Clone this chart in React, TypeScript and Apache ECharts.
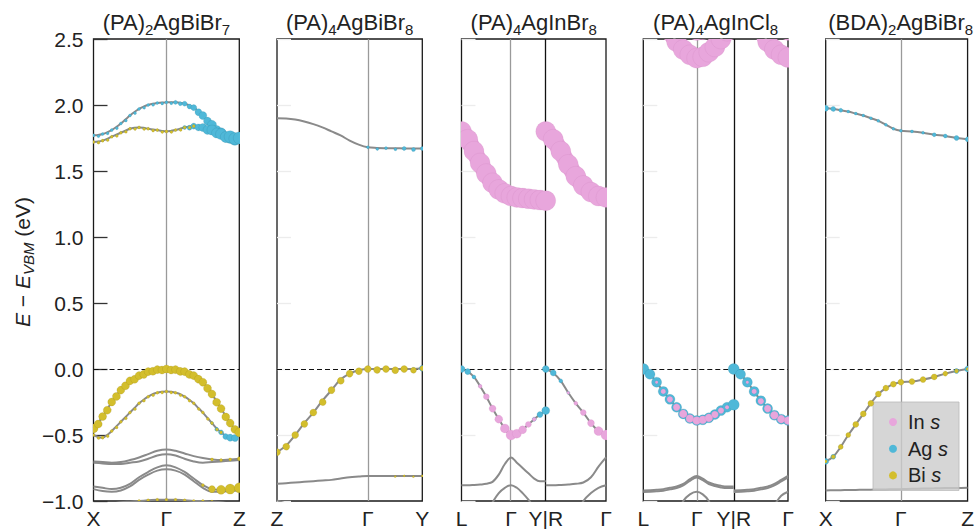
import React, { useEffect, useRef } from 'react';
import * as echarts from 'echarts';

const FONT = '"Liberation Sans", Arial, Helvetica, sans-serif';
const PINK = '#e8a6dc';
const BLUE = '#4fb8d8';
const YELLOW = '#d3be2c';
const GRAY = '#8a8a8a';

// ---------- titles ----------
const titles = [
  '(PA){sub|2}AgBiBr{sub|7}',
  '(PA){sub|4}AgBiBr{sub|8}',
  '(PA){sub|4}AgInBr{sub|8}',
  '(PA){sub|4}AgInCl{sub|8}',
  '(BDA){sub|2}AgBiBr{sub|8}',
];

// ---------- high-symmetry points ----------
const p1_kpos = [0, 0.5, 1];
const p1_klab = ['X', 'Γ', 'Z'];
const p2_kpos = [0, 0.625, 1];
const p2_klab = ['Z', 'Γ', 'Y'];
const p3_kpos = [0, 0.343, 0.583, 1];
const p3_klab = ['L', 'Γ', 'Y|R', 'Γ'];
const p4_kpos = [0, 0.369, 0.625, 1];
const p4_klab = ['L', 'Γ', 'Y|R', 'Γ'];
const p5_kpos = [0, 0.53, 1];
const p5_klab = ['X', 'Γ', 'Z'];

// ---------- k samples ----------
const kx16 = [0, 0.0625, 0.125, 0.1875, 0.25, 0.3125, 0.375, 0.4375, 0.5, 0.5625, 0.625, 0.6875, 0.75, 0.8125, 0.875, 0.9375, 1];
const kx32 = [0, 0.03125, 0.0625, 0.09375, 0.125, 0.15625, 0.1875, 0.21875, 0.25, 0.28125, 0.3125, 0.34375, 0.375, 0.40625, 0.4375, 0.46875, 0.5,
  0.53125, 0.5625, 0.59375, 0.625, 0.65625, 0.6875, 0.71875, 0.75, 0.78125, 0.8125, 0.84375, 0.875, 0.90625, 0.9375, 0.96875, 1];
const kx3a = [0, 0.043, 0.086, 0.129, 0.172, 0.215, 0.258, 0.3, 0.343, 0.383, 0.423, 0.463, 0.503, 0.543, 0.583];
const kx3b = [0.583, 0.635, 0.687, 0.739, 0.791, 0.843, 0.896, 0.948, 1.0];
const kx4a = [0, 0.046, 0.092, 0.138, 0.184, 0.23, 0.276, 0.322, 0.369, 0.411, 0.453, 0.495, 0.537, 0.579, 0.625];
const kx4b = [0.625, 0.672, 0.719, 0.766, 0.8125, 0.859, 0.906, 0.953, 1.0];
const kx5 = [0, 0.053, 0.106, 0.159, 0.212, 0.265, 0.318, 0.371, 0.424, 0.477, 0.53, 0.608, 0.686, 0.765, 0.843, 0.922, 1.0];

// ---------- panel 1: (PA)2AgBiBr7 ----------
const p1_cb1 = [1.77, 1.772, 1.78, 1.793, 1.81, 1.833, 1.86, 1.89, 1.92, 1.947, 1.97, 1.988, 2.0, 2.009, 2.015, 2.019, 2.02,
  2.021, 2.02, 2.017, 2.01, 1.998, 1.98, 1.953, 1.92, 1.885, 1.85, 1.818, 1.79, 1.765, 1.75, 1.745, 1.75];
const p1_cb1_ag = [3, 3, 3, 3, 3, 3, 3, 3, 3, 3, 3, 3, 3, 3, 3, 3, 3, 3, 4, 4, 5, 5, 6, 7, 8, 8, 9, 9, 10, 10, 11, 11, 11];
const p1_cb2 = [1.72, 1.723, 1.73, 1.743, 1.76, 1.775, 1.79, 1.805, 1.82, 1.827, 1.83, 1.827, 1.82, 1.814, 1.81, 1.804, 1.8,
  1.804, 1.81, 1.82, 1.83, 1.837, 1.84, 1.838, 1.83, 1.82, 1.81, 1.795, 1.78, 1.768, 1.76, 1.754, 1.75];
const p1_cb2_ag = [2, 2, 2, 2, 2, 2, 2, 2, 2, 2, 2, 2, 2, 2, 2, 2, 2, 2, 2, 2, 4, 5, 6, 7, 8, 9, 10, 10, 11, 11, 12, 12, 12];
const p1_cb2_bi = [3, 3, 3, 3, 3, 3, 3, 3, 3, 3, 3, 3, 3, 3, 3, 3, 3, 3, 3, 3, 3, 3, 3, 0, 0, 0, 0, 0, 0, 0, 0, 0, 0];
const p1_vb1 = [-0.45, -0.41, -0.36, -0.305, -0.25, -0.2, -0.16, -0.12, -0.09, -0.07, -0.05, -0.033, -0.02, -0.01, -0.005, -0.001, 0,
  -0.001, -0.005, -0.01, -0.02, -0.033, -0.05, -0.07, -0.1, -0.14, -0.19, -0.245, -0.3, -0.355, -0.41, -0.45, -0.48];
const p1_vb1_bi = [9, 8, 8, 8, 8, 8, 8, 8, 8, 8, 8, 8, 8, 8, 8, 8, 8, 8, 8, 8, 8, 8, 8, 8, 8, 8, 8, 8, 8, 8, 8, 8, 9];
const p1_vb2 = [-0.5, -0.515, -0.52, -0.5, -0.47, -0.435, -0.4, -0.365, -0.33, -0.295, -0.26, -0.233, -0.21, -0.19, -0.18, -0.172, -0.17,
  -0.172, -0.18, -0.19, -0.21, -0.233, -0.26, -0.295, -0.33, -0.37, -0.41, -0.45, -0.48, -0.505, -0.52, -0.515, -0.49];
const p1_vb2_bi = [3, 3, 3, 3, 3, 3, 3, 3, 3, 3, 3, 3, 3, 3, 3, 3, 3, 3, 3, 3, 3, 3, 3, 3, 3, 3, 3, 3, 3, 0, 0, 0, 0];
const p1_vb2_ag = [0, 0, 0, 0, 0, 0, 0, 0, 0, 0, 0, 0, 0, 0, 0, 0, 0, 0, 0, 0, 0, 0, 0, 0, 0, 0, 3, 4, 5, 6, 7, 7, 6];
const p1_b3 = [-0.7, -0.705, -0.71, -0.705, -0.69, -0.67, -0.645, -0.62, -0.61, -0.62, -0.64, -0.66, -0.675, -0.685, -0.69, -0.685, -0.68];
const p1_b3_bi = [0, 0, 0, 0, 0, 0, 0, 0, 0, 0, 0, 0, 0, 3, 3, 3, 4];
const p1_b4 = [-0.71, -0.715, -0.72, -0.72, -0.71, -0.7, -0.68, -0.655, -0.645, -0.655, -0.68, -0.7, -0.71, -0.705, -0.7, -0.695, -0.69];
const p1_b5 = [-0.89, -0.9, -0.91, -0.9, -0.87, -0.82, -0.78, -0.745, -0.73, -0.745, -0.78, -0.83, -0.88, -0.91, -0.915, -0.91, -0.9];
const p1_b5_bi = [0, 0, 0, 0, 0, 0, 0, 0, 0, 0, 0, 0, 3, 7, 9, 10, 10];
const p1_b6 = [-0.91, -0.925, -0.93, -0.92, -0.89, -0.84, -0.8, -0.77, -0.76, -0.77, -0.8, -0.85, -0.9, -0.93, -0.93, -0.925, -0.92];
const p1_b7 = [-1.04, -1.03, -1.02, -1.01, -1.005, -1.0, -0.995, -0.99, -0.99, -0.99, -0.995, -1.0, -1.0, -1.005, -1.01, -1.02, -1.03];
const p1_b7_bi = [0, 0, 0, 0, 0, 3, 3, 3, 3, 3, 3, 3, 3, 3, 0, 0, 0];

// ---------- panel 2: (PA)4AgBiBr8 ----------
const p2_cb = [1.9, 1.898, 1.89, 1.875, 1.855, 1.83, 1.8, 1.77, 1.73, 1.7, 1.68, 1.675, 1.673, 1.672, 1.671, 1.67, 1.67];
const p2_cb_ag = [0, 0, 0, 0, 0, 0, 0, 0, 0, 0, 3, 3, 3, 3, 4, 4, 4];
const p2_vb = [-0.63, -0.58, -0.5, -0.41, -0.33, -0.24, -0.16, -0.08, -0.035, -0.01, 0, 0, 0, 0, 0, 0, 0.005];
const p2_vb_bi = [7, 7, 7, 7, 7, 7, 7, 7, 7, 7, 7, 7, 7, 7, 7, 6, 5];
const p2_vb_ag = [0, 0, 0, 0, 0, 0, 0, 0, 0, 0, 0, 0, 0, 0, 3, 5, 6];
const p2_b2 = [-0.87, -0.865, -0.86, -0.855, -0.85, -0.845, -0.84, -0.83, -0.82, -0.815, -0.81, -0.81, -0.81, -0.81, -0.81, -0.81, -0.81];
const p2_b2_bi = [0, 0, 0, 0, 0, 0, 0, 0, 0, 0, 0, 0, 0, 2, 2, 2, 2];
const p2_b3 = [-0.995, -1.02, -1.05, -1.08, -1.1, -1.1, -1.1, -1.1, -1.1, -1.1, -1.1, -1.1, -1.1, -1.1, -1.1, -1.1, -1.1];

// ---------- panel 3: (PA)4AgInBr8 ----------
const p3a_cb = [1.8, 1.74, 1.65, 1.56, 1.48, 1.41, 1.36, 1.33, 1.31, 1.3, 1.295, 1.29, 1.285, 1.28, 1.275];
const p3a_cb_in = [20, 20, 20, 20, 20, 20, 20, 20, 20, 20, 20, 20, 20, 20, 20];
const p3b_cb = [1.8, 1.74, 1.65, 1.55, 1.46, 1.39, 1.34, 1.31, 1.3];
const p3b_cb_in = [20, 20, 20, 20, 20, 20, 20, 20, 20];
const p3a_vb = [0, -0.02, -0.06, -0.13, -0.21, -0.3, -0.38, -0.45, -0.5, -0.49, -0.46, -0.42, -0.38, -0.345, -0.315];
const p3a_vb_ag = [7, 6, 4, 3, 2, 0, 0, 0, 0, 0, 0, 2, 4, 6, 8];
const p3a_vb_in = [0, 0, 0, 4, 6, 7, 8, 9, 10, 9, 8, 6, 4, 0, 0];
const p3b_vb = [0, -0.03, -0.09, -0.18, -0.26, -0.33, -0.41, -0.47, -0.5];
const p3b_vb_ag = [7, 6, 4, 3, 2, 0, 0, 0, 0];
const p3b_vb_in = [0, 0, 0, 3, 4, 6, 7, 9, 10];
const p3a_b1 = [-0.88, -0.88, -0.878, -0.875, -0.87, -0.855, -0.8, -0.72, -0.67, -0.71, -0.75, -0.79, -0.83, -0.85, -0.85];
const p3b_b1 = [-0.88, -0.88, -0.878, -0.875, -0.87, -0.86, -0.82, -0.74, -0.67];
const p3a_b2 = [-1.1, -1.1, -1.1, -1.1, -1.1, -1.01, -0.94, -0.9, -0.88, -0.9, -0.94, -0.99, -1.05, -1.1, -1.1];
const p3b_b2 = [-1.1, -1.1, -1.1, -1.1, -1.1, -1.0, -0.94, -0.9, -0.88];

// ---------- panel 4: (PA)4AgInCl8 ----------
const p4a_cb1 = [2.95, 2.85, 2.75, 2.66, 2.56, 2.48, 2.42, 2.38, 2.355, 2.365, 2.4, 2.44, 2.5, 2.56, 2.62];
const p4a_cb2 = [3.1, 3.0, 2.9, 2.82, 2.74, 2.68, 2.62, 2.58, 2.565, 2.57, 2.6, 2.64, 2.7, 2.77, 2.85];
const p4a_cb_in = [20, 20, 20, 20, 20, 20, 20, 20, 20, 20, 20, 20, 20, 20, 20];
const p4b_cb1 = [2.95, 2.88, 2.8, 2.7, 2.58, 2.48, 2.42, 2.38, 2.36];
const p4b_cb2 = [3.2, 3.1, 3.0, 2.9, 2.8, 2.7, 2.64, 2.59, 2.565];
const p4b_cb_in = [20, 20, 20, 20, 20, 20, 20, 20, 20];
const p4a_vb = [0, -0.04, -0.1, -0.17, -0.23, -0.29, -0.34, -0.375, -0.39, -0.385, -0.37, -0.345, -0.315, -0.29, -0.27];
const p4a_vb_ag = [11, 10, 10, 10, 10, 10, 10, 10, 10, 10, 10, 10, 10, 10, 11];
const p4a_vb_in = [0, 0, 3, 5, 6, 7, 8, 8, 8, 8, 8, 7, 6, 4, 0];
const p4b_vb = [0, -0.04, -0.1, -0.17, -0.24, -0.3, -0.35, -0.38, -0.39];
const p4b_vb_ag = [11, 10, 10, 10, 10, 10, 10, 10, 10];
const p4b_vb_in = [0, 0, 3, 5, 6, 7, 8, 8, 8];
const p4a_b1 = [-0.92, -0.918, -0.915, -0.91, -0.9, -0.89, -0.87, -0.835, -0.81, -0.83, -0.86, -0.875, -0.885, -0.89, -0.89];
const p4a_b1b = [-0.932, -0.93, -0.927, -0.922, -0.912, -0.902, -0.882, -0.847, -0.822, -0.842, -0.872, -0.887, -0.897, -0.902, -0.902];
const p4b_b1 = [-0.92, -0.918, -0.915, -0.91, -0.9, -0.89, -0.87, -0.84, -0.81];
const p4b_b1b = [-0.932, -0.93, -0.927, -0.922, -0.912, -0.902, -0.882, -0.852, -0.822];
const p4a_b2 = [-1.1, -1.1, -1.1, -1.1, -1.1, -1.1, -1.0, -0.95, -0.93, -0.95, -1.0, -1.1, -1.1, -1.1, -1.1];
const p4b_b2 = [-1.1, -1.1, -1.1, -1.1, -1.1, -1.1, -1.03, -0.96, -0.93];

// ---------- panel 5: (BDA)2AgBiBr8 ----------
const p5_cb = [1.975, 1.97, 1.96, 1.95, 1.935, 1.92, 1.9, 1.88, 1.85, 1.82, 1.805, 1.8, 1.79, 1.775, 1.765, 1.75, 1.74];
const p5_cb_ag = [6, 5, 4, 3, 3, 3, 3, 3, 3, 3, 3, 3, 3, 4, 4, 5, 5];
const p5_vb = [-0.7, -0.665, -0.59, -0.5, -0.42, -0.34, -0.26, -0.19, -0.145, -0.115, -0.1, -0.095, -0.08, -0.06, -0.035, -0.015, 0];
const p5_vb_ag = [6, 5, 4, 3, 0, 0, 0, 0, 0, 0, 0, 0, 0, 0, 3, 5, 6];
const p5_vb_bi = [3, 4, 5, 5, 6, 6, 6, 6, 6, 6, 6, 6, 6, 6, 5, 4, 3];
const p5_b2 = [-0.92, -0.919, -0.918, -0.917, -0.916, -0.915, -0.914, -0.913, -0.912, -0.911, -0.91, -0.908, -0.906, -0.904, -0.902, -0.901, -0.9];

// ---------- layout (pixels) ----------
const GRID_TOP = 39;
const GRID_H = 463.7;
const gridLayout = [
  { left: 93.5, width: 145.8 },
  { left: 277, width: 145.3 },
  { left: 461.5, width: 144.5 },
  { left: 643.3, width: 144.7 },
  { left: 825.7, width: 150 },
];

type Band = { k: number[]; e: number[]; ag?: number[]; inn?: number[]; bi?: number[] };

const panels: { kpos: number[]; klab: string[]; bands: Band[] }[] = [
  {
    kpos: p1_kpos, klab: p1_klab,
    bands: [
      { k: kx32, e: p1_cb1, ag: p1_cb1_ag },
      { k: kx32, e: p1_cb2, ag: p1_cb2_ag, bi: p1_cb2_bi },
      { k: kx32, e: p1_vb1, bi: p1_vb1_bi },
      { k: kx32, e: p1_vb2, ag: p1_vb2_ag, bi: p1_vb2_bi },
      { k: kx16, e: p1_b3, bi: p1_b3_bi },
      { k: kx16, e: p1_b4 },
      { k: kx16, e: p1_b5, bi: p1_b5_bi },
      { k: kx16, e: p1_b6 },
      { k: kx16, e: p1_b7, bi: p1_b7_bi },
    ],
  },
  {
    kpos: p2_kpos, klab: p2_klab,
    bands: [
      { k: kx16, e: p2_cb, ag: p2_cb_ag },
      { k: kx16, e: p2_vb, ag: p2_vb_ag, bi: p2_vb_bi },
      { k: kx16, e: p2_b2, bi: p2_b2_bi },
      { k: kx16, e: p2_b3 },
    ],
  },
  {
    kpos: p3_kpos, klab: p3_klab,
    bands: [
      { k: kx3a, e: p3a_cb, inn: p3a_cb_in },
      { k: kx3b, e: p3b_cb, inn: p3b_cb_in },
      { k: kx3a, e: p3a_vb, ag: p3a_vb_ag, inn: p3a_vb_in },
      { k: kx3b, e: p3b_vb, ag: p3b_vb_ag, inn: p3b_vb_in },
      { k: kx3a, e: p3a_b1 },
      { k: kx3b, e: p3b_b1 },
      { k: kx3a, e: p3a_b2 },
      { k: kx3b, e: p3b_b2 },
    ],
  },
  {
    kpos: p4_kpos, klab: p4_klab,
    bands: [
      { k: kx4a, e: p4a_cb1, inn: p4a_cb_in },
      { k: kx4a, e: p4a_cb2, inn: p4a_cb_in },
      { k: kx4b, e: p4b_cb1, inn: p4b_cb_in },
      { k: kx4b, e: p4b_cb2, inn: p4b_cb_in },
      { k: kx4a, e: p4a_vb, ag: p4a_vb_ag, inn: p4a_vb_in },
      { k: kx4b, e: p4b_vb, ag: p4b_vb_ag, inn: p4b_vb_in },
      { k: kx4a, e: p4a_b1 },
      { k: kx4a, e: p4a_b1b },
      { k: kx4b, e: p4b_b1 },
      { k: kx4b, e: p4b_b1b },
      { k: kx4a, e: p4a_b2 },
      { k: kx4b, e: p4b_b2 },
    ],
  },
  {
    kpos: p5_kpos, klab: p5_klab,
    bands: [
      { k: kx5, e: p5_cb, ag: p5_cb_ag },
      { k: kx5, e: p5_vb, ag: p5_vb_ag, bi: p5_vb_bi },
      { k: kx5, e: p5_b2 },
    ],
  },
];

const ORB = [
  { key: 'ag', name: 'Ag s', color: BLUE, stroke: 'rgba(30,110,140,0.22)', z: 3 },
  { key: 'inn', name: 'In s', color: PINK, stroke: 'rgba(170,90,155,0.14)', z: 4 },
  { key: 'bi', name: 'Bi s', color: YELLOW, stroke: 'rgba(130,110,10,0.22)', z: 5 },
];

function makeRender(color: string, stroke: string) {
  return (_params: any, api: any) => {
    const p = api.coord([api.value(0), api.value(1)]);
    const r = api.value(2) / 2;
    return {
      type: 'circle',
      shape: { cx: p[0], cy: p[1], r },
      style: { fill: color, stroke, lineWidth: 0.7 },
    };
  };
}

function makeTubeRender(b: Band, width: number) {
  return (_params: any, api: any) => {
    const points = b.k.map((x, i) => api.coord([x, b.e[i]]));
    return {
      type: 'polyline',
      shape: { points, smooth: 0.3 },
      style: { stroke: PINK, fill: null, lineWidth: width, lineCap: 'round', lineJoin: 'round' },
    };
  };
}

function buildOption() {
  const series: any[] = [];
  panels.forEach((pan, gi) => {
    pan.bands.forEach((b, bi) => {
      const s: any = {
        type: 'line',
        xAxisIndex: gi,
        yAxisIndex: gi,
        data: b.k.map((x, i) => [x, b.e[i]]),
        smooth: 0.35,
        symbol: 'none',
        silent: true,
        clip: true,
        z: 2,
        lineStyle: { color: GRAY, width: 2 },
      };
      if (bi === 0) {
        const lines: any[] = [];
        pan.kpos.forEach((x, i) => {
          if (x <= 0 || x >= 1) return;
          const isBreak = pan.klab[i].includes('|');
          lines.push({
            xAxis: x,
            lineStyle: { color: isBreak ? '#111111' : '#9a9a9a', width: 1.3, type: 'solid' },
          });
        });
        lines.push({ yAxis: 0, lineStyle: { color: '#111111', width: 1.2, type: [5, 3] } });
        s.markLine = {
          silent: true,
          symbol: ['none', 'none'],
          z: 1,
          label: { show: false },
          emphasis: { disabled: true },
          animation: false,
          data: lines,
        };
      }
      series.push(s);
      // continuous tube underneath large In s projections (custom series clips to the grid)
      if (b.inn && Math.min(...b.inn) >= 15) {
        series.push({
          type: 'custom',
          xAxisIndex: gi,
          yAxisIndex: gi,
          clip: true,
          silent: true,
          z: 3,
          encode: { x: 0, y: 1 },
          data: [[b.k[0], b.e[0]]],
          renderItem: makeTubeRender(b, 17),
        });
      }
      ORB.forEach((o) => {
        const sizes: number[] | undefined = (b as any)[o.key];
        if (!sizes) return;
        const data = b.k
          .map((x, i) => [x, b.e[i], sizes[i]])
          .filter((d) => d[2] > 0);
        series.push({
          type: 'custom',
          name: o.name,
          xAxisIndex: gi,
          yAxisIndex: gi,
          clip: true,
          silent: true,
          z: o.z,
          itemStyle: { color: o.color },
          encode: { x: 0, y: 1 },
          data,
          renderItem: makeRender(o.color, o.stroke),
        });
      });
    });
  });

  const grid = gridLayout.map((g) => ({
    left: g.left,
    top: GRID_TOP,
    width: g.width,
    height: GRID_H,
    show: true,
    borderColor: '#1a1a1a',
    borderWidth: 1.3,
    backgroundColor: 'transparent',
  }));

  const xAxis = panels.map((pan, gi) => ({
    type: 'value',
    gridIndex: gi,
    min: 0,
    max: 1,
    axisLine: { show: false },
    axisTick: { show: false },
    splitLine: { show: false },
    axisLabel: {
      show: true,
      customValues: pan.kpos,
      margin: 7,
      fontSize: 21,
      color: '#222222',
      fontFamily: FONT,
      formatter: (v: number) => {
        const i = pan.kpos.findIndex((p) => Math.abs(p - v) < 1e-6);
        return i >= 0 ? pan.klab[i] : '';
      },
    },
  }));

  const yAxis = panels.map((_pan, gi) => {
    const first = gi === 0;
    const ax: any = {
      type: 'value',
      gridIndex: gi,
      min: -1,
      max: 2.5,
      interval: 0.5,
      axisLine: { show: false },
      splitLine: { show: false },
      axisTick: {
        show: true,
        inside: true,
        length: 14,
        lineStyle: { color: first ? '#333333' : '#ececec', width: 1.3 },
      },
      axisLabel: {
        show: first,
        margin: 10,
        fontSize: 21,
        color: '#222222',
        fontFamily: FONT,
        formatter: (v: number) => v.toFixed(1).replace('-', '\u2212'),
      },
    };
    if (first) {
      ax.name = '{i|E} \u2212 {i|E}{sub|VBM} (eV)';
      ax.nameLocation = 'middle';
      ax.nameRotate = 90;
      ax.nameGap = 58;
      ax.nameTextStyle = {
        fontSize: 21,
        color: '#222222',
        fontFamily: FONT,
        padding: [0, 0, 0, 16],
        rich: {
          i: { fontSize: 21, fontStyle: 'italic', fontFamily: FONT, color: '#222222' },
          sub: { fontSize: 15, fontStyle: 'italic', fontFamily: FONT, color: '#222222', padding: [12, 0, 0, 0] },
        },
      };
    }
    return ax;
  });

  const title = titles.map((t, gi) => ({
    text: t,
    left: gridLayout[gi].left + gridLayout[gi].width / 2,
    top: 8,
    textAlign: 'center',
    padding: 0,
    textStyle: {
      fontSize: 22,
      fontWeight: 'normal',
      color: '#222222',
      fontFamily: FONT,
      rich: {
        sub: { fontSize: 15, fontFamily: FONT, color: '#222222', padding: [14, 0, 0, 0] },
      },
    },
  }));

  const legend = {
    show: true,
    orient: 'vertical',
    left: 873,
    top: 402,
    padding: [10, 11, 5, 16],
    itemWidth: 8,
    itemHeight: 8,
    itemGap: 6.7,
    selectedMode: false,
    backgroundColor: 'rgba(204,204,204,0.8)',
    borderColor: 'rgba(185,185,185,0.8)',
    borderWidth: 1,
    borderRadius: 0,
    textStyle: {
      fontSize: 20,
      color: '#222222',
      fontFamily: FONT,
      padding: [0, 0, 0, 6],
      rich: {
        i: { fontSize: 20, fontStyle: 'italic', fontFamily: FONT, color: '#222222' },
      },
    },
    formatter: (name: string) => name.replace(/ s$/, ' {i|s}'),
    data: [
      { name: 'In s', icon: 'circle', itemStyle: { color: PINK } },
      { name: 'Ag s', icon: 'circle', itemStyle: { color: BLUE } },
      { name: 'Bi s', icon: 'circle', itemStyle: { color: YELLOW } },
    ],
  };

  return {
    animation: false,
    backgroundColor: '#ffffff',
    title,
    legend,
    grid,
    xAxis,
    yAxis,
    series,
  };
}

export default function App() {
  const ref = useRef<HTMLDivElement>(null);
  useEffect(() => {
    document.body.style.margin = '0';
    if (!ref.current) return;
    const chart = echarts.init(ref.current, undefined, { renderer: 'svg' });
    chart.setOption(buildOption() as any);
    return () => {
      chart.dispose();
    };
  }, []);
  return (
    <div
      ref={ref}
      style={{ position: 'absolute', left: 0, top: 0, width: 977, height: 529 }}
    />
  );
}
